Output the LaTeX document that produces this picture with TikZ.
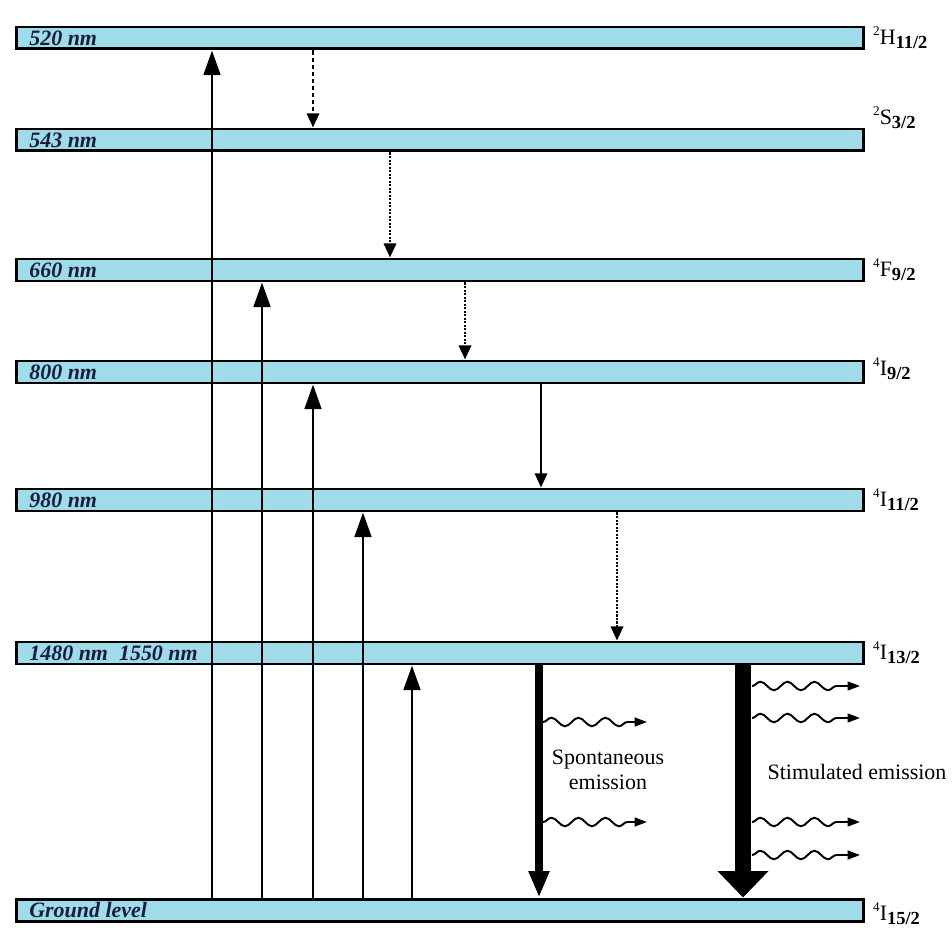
\documentclass[tikz,border=0pt]{standalone}
\usepackage{fontspec}
\setmainfont{Liberation Serif}
\usetikzlibrary{arrows.meta,decorations.pathmorphing}
\definecolor{levelcyan}{RGB}{160,219,234}
\definecolor{labelnavy}{RGB}{22,30,62}

\tikzset{
  level/.style={draw, line width=1.7pt, fill=levelcyan, minimum width=16.94cm,
    minimum height=0.44cm, inner sep=0pt, anchor=west},
  barlabel/.style={anchor=west, inner sep=0pt, text=labelnavy,
    font=\fontsize{12.5}{14}\selectfont\bfseries\itshape},
  termlabel/.style={anchor=west, inner sep=0pt, font=\fontsize{12.5}{14}\selectfont},
  pump/.style={line width=1.5pt, -{Triangle[length=14pt,width=9.5pt]}},
  relax/.style={line width=1.2pt, -{Triangle[length=8pt,width=7pt]}},
  fine dots/.style={line width=1.4pt, dash pattern=on 1.2pt off 0.8pt},
  photon/.style={line width=1.1pt, decorate,
    decoration={snake, amplitude=0.085cm, segment length=0.54cm, post length=0.3cm},
    -{Triangle[length=7pt,width=5pt]}}
}
\newcommand{\term}[3]{\raisebox{0.85ex}{\fontsize{7.5}{8}\selectfont #1}#2\raisebox{-0.45ex}{\fontsize{10.5}{11}\selectfont\bfseries #3}}

\begin{document}
\begin{tikzpicture}[x=0.02cm, y=-0.02cm]
  \useasboundingbox (0,0) rectangle (952,928);

  % energy levels
  \node[level] (lv1) at (15,38) {};
  \node[level] (lv2) at (15,140) {};
  \node[level] (lv3) at (15,270) {};
  \node[level] (lv4) at (15,372) {};
  \node[level] (lv5) at (15,500) {};
  \node[level] (lv6) at (15,653) {};
  \node[level] (lv7) at (15,910) {};

  \node[barlabel] (n1) at ([xshift=0.28cm]lv1.west) {520 nm};
  \node[barlabel] (n2) at ([xshift=0.28cm]lv2.west) {543 nm};
  \node[barlabel] (n3) at ([xshift=0.28cm]lv3.west) {660 nm};
  \node[barlabel] (n4) at ([xshift=0.28cm]lv4.west) {800 nm};
  \node[barlabel] (n5) at ([xshift=0.28cm]lv5.west) {980 nm};
  \node[barlabel] (n6) at ([xshift=0.28cm]lv6.west) {1480 nm\ \ 1550 nm};
  \node[barlabel] (n7) at ([xshift=0.28cm]lv7.west) {Ground level};

  \node[termlabel] (s1) at ([xshift=0.16cm]lv1.east) {\term{2}{H}{11/2}};
  \node[termlabel] (s2) at ([xshift=0.16cm,yshift=0.44cm]lv2.east) {\term{2}{S}{3/2}};
  \node[termlabel] (s3) at ([xshift=0.16cm]lv3.east) {\term{4}{F}{9/2}};
  \node[termlabel] (s4) at ([xshift=0.16cm,yshift=0.06cm]lv4.east) {\term{4}{I}{9/2}};
  \node[termlabel] (s5) at ([xshift=0.16cm]lv5.east) {\term{4}{I}{11/2}};
  \node[termlabel] (s6) at ([xshift=0.16cm]lv6.east) {\term{4}{I}{13/2}};
  \node[termlabel] (s7) at ([xshift=0.16cm,yshift=-0.08cm]lv7.east) {\term{4}{I}{15/2}};

  % pumping
  \foreach \x/\t in {212/lv1, 262/lv3, 313/lv4, 363/lv5, 412/lv6}
    \draw[pump] (lv7.north -| \x,0) -- (\t.south -| \x,0);

  % non-radiative decay
  \draw[relax, dash pattern=on 2.5pt off 1.5pt] (lv1.south -| 313,0) -- (lv2.north -| 313,0);
  \draw[relax, fine dots] (lv2.south -| 390,0) -- (lv3.north -| 390,0);
  \draw[relax, fine dots] (lv3.south -| 465,0) -- (lv4.north -| 465,0);
  \draw[relax] (lv4.south -| 541,0) -- (lv5.north -| 541,0);
  \draw[relax, fine dots] (lv5.south -| 617,0) -- (lv6.north -| 617,0);

  % emission
  \draw[line width=4.5pt, -{Triangle[length=15pt,width=11pt]}] (lv6.south -| 539,0) -- (lv7.north -| 539,0);
  \draw[line width=9.5pt, -{Triangle[length=15pt,width=28pt]}] (lv6.south -| 743,0) -- (lv7.north -| 743,0);

  \foreach \y [count=\i] in {722,822} {
    \coordinate (sp\i) at (543,\y);
    \draw[photon] (sp\i) -- ++(104,0);
  }
  \foreach \y [count=\i] in {686,718,822,855} {
    \coordinate (st\i) at (752,\y);
    \draw[photon] (st\i) -- ++(108,0);
  }

  \node[align=center, inner sep=0pt, font=\fontsize{12.5}{14.5}\selectfont] (spon) at (608,770) {Spontaneous\\emission};
  \node[inner sep=0pt, font=\fontsize{12.5}{14}\selectfont] (stim) at (857,772) {Stimulated emission};
\end{tikzpicture}
\end{document}
